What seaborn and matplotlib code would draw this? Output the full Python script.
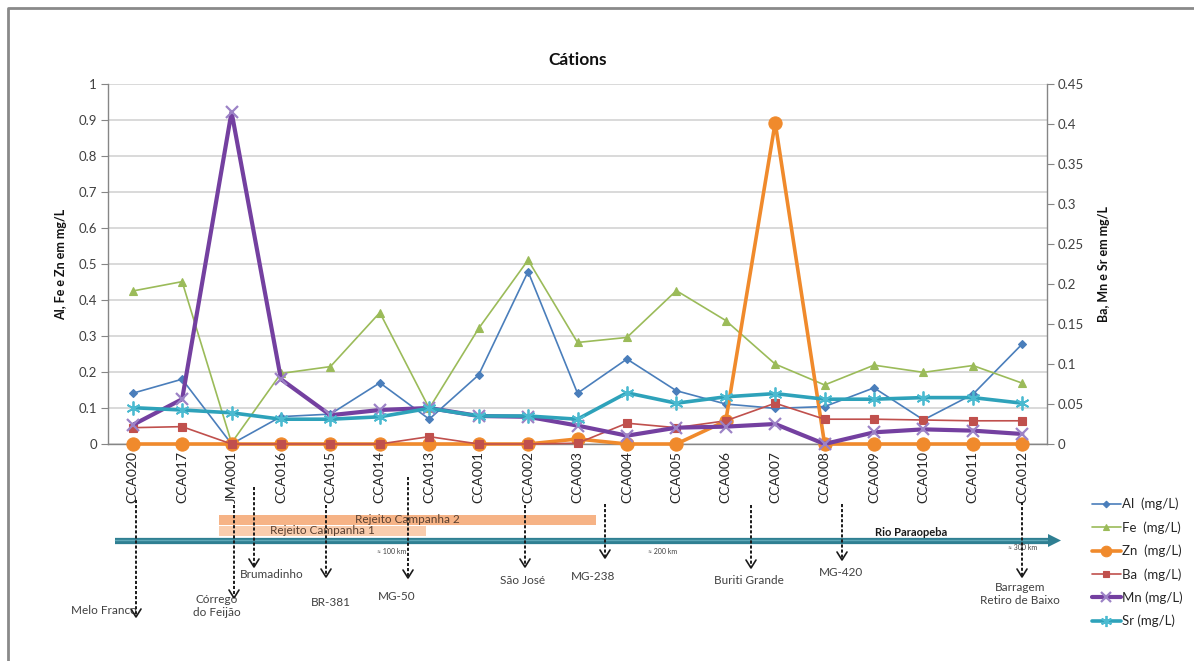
import matplotlib
matplotlib.use("Agg")
import matplotlib.pyplot as plt
import matplotlib.lines as mlines
import matplotlib.patches as mpatches
from matplotlib.ticker import FuncFormatter
import numpy as np
import pandas as pd
import seaborn as sns

# ---- data -----------------------------------------------------------------
pontos = ["CCA020", "CCA017", "JMA001", "CCA016", "CCA015", "CCA014", "CCA013",
          "CCA001", "CCA002", "CCA003", "CCA004", "CCA005", "CCA006", "CCA007",
          "CCA008", "CCA009", "CCA010", "CCA011", "CCA012"]

# primary axis (mg/L)
al = [0.141, 0.180, 0.000, 0.076, 0.083, 0.170, 0.069, 0.192, 0.479, 0.141,
      0.236, 0.148, 0.111, 0.099, 0.104, 0.156, 0.067, 0.138, 0.278]
fe = [0.425, 0.451, 0.003, 0.196, 0.215, 0.365, 0.099, 0.321, 0.511, 0.282,
      0.296, 0.426, 0.343, 0.222, 0.164, 0.219, 0.199, 0.218, 0.169]
zn = [0.000, 0.000, 0.000, 0.000, 0.000, 0.000, 0.000, 0.000, 0.000, 0.014,
      0.000, 0.000, 0.064, 0.893, 0.000, 0.000, 0.000, 0.000, 0.000]

# secondary axis (mg/L)
ba = [0.0204, 0.0217, 0.0, 0.0, 0.0, 0.0, 0.0092, 0.0, 0.0, 0.0010,
      0.0260, 0.0204, 0.0290, 0.0510, 0.0310, 0.0310, 0.0300, 0.0290, 0.0290]
mn = [0.0238, 0.0560, 0.4150, 0.0810, 0.0360, 0.0425, 0.0450, 0.0350, 0.0340,
      0.0230, 0.0104, 0.0204, 0.0217, 0.0250, 0.0000, 0.0146, 0.0183, 0.0167, 0.0125]
sr = [0.0454, 0.0425, 0.0390, 0.0310, 0.0310, 0.0340, 0.0446, 0.0350, 0.0350,
      0.0310, 0.0640, 0.0510, 0.0590, 0.0630, 0.0560, 0.0560, 0.0580, 0.0580, 0.0510]

left_ticks = [0, 0.1, 0.2, 0.3, 0.4, 0.5, 0.6, 0.7, 0.8, 0.9, 1]
right_ticks = [0, 0.05, 0.1, 0.15, 0.2, 0.25, 0.3, 0.35, 0.4, 0.45]

df = pd.DataFrame({"ponto": pontos, "Al": al, "Fe": fe, "Zn": zn,
                   "Ba": ba, "Mn": mn, "Sr": sr})

# ---- style ----------------------------------------------------------------
sns.set_style("white")
plt.rcParams["font.family"] = ["Lato", "DejaVu Sans"]

W, H = 1194, 661
fig = plt.figure(figsize=(W / 100, H / 100), dpi=100)
ax = fig.add_axes([108 / W, 1 - 444 / H, (1047 - 108) / W, (444 - 84) / H])
ax2 = ax.twinx()

AXIS_GREY = "#868686"
GRID_GREY = "#d9d9d9"

series_primary = [
    ("Al", "Al  (mg/L)", "#4a7ebb", "D", 4.2, 1.2, {}),
    ("Fe", "Fe  (mg/L)", "#9bbb59", "^", 5.5, 1.2, {}),
    ("Zn", "Zn  (mg/L)", "#f08a2c", "o", 9.5, 2.6, {}),
]
series_secondary = [
    ("Ba", "Ba  (mg/L)", "#c0504d", "s", 5.5, 1.2, {}),
    ("Mn", "Mn (mg/L)", "#7440a0", "x", 8.5, 3.0,
     {"markeredgecolor": "#9c82c6", "markeredgewidth": 1.6}),
    ("Sr", "Sr (mg/L)", "#2ea2ba", (6, 2, 0), 10, 2.6,
     {"markeredgecolor": "#4bbad0", "markeredgewidth": 1.3}),
]

for target, group in ((ax, series_primary), (ax2, series_secondary)):
    for col, lab, color, mk, ms, lw, extra in group:
        sns.lineplot(data=df, x="ponto", y=col, ax=target, color=color,
                     marker=mk, markersize=ms, linewidth=lw, sort=False,
                     label=lab, markeredgecolor=extra.get("markeredgecolor", color),
                     markeredgewidth=extra.get("markeredgewidth", 0.8),
                     clip_on=False, zorder=3)

# ---- axes -----------------------------------------------------------------
ax.set_xlim(-0.5, len(pontos) - 0.5)
ax.set_ylim(0, 1)
ax2.set_ylim(0, 0.45)
ax.set_yticks(left_ticks)
ax2.set_yticks(right_ticks)
fmt = FuncFormatter(lambda v, p: f"{v:g}")
ax.yaxis.set_major_formatter(fmt)
ax2.yaxis.set_major_formatter(fmt)

ax.yaxis.grid(True, color=GRID_GREY, linewidth=1.4)
ax.set_axisbelow(True)
ax2.grid(False)

for sp in ("top", "right"):
    ax.spines[sp].set_visible(False)
for sp in ("left", "bottom"):
    ax.spines[sp].set_color(AXIS_GREY)
    ax.spines[sp].set_linewidth(1.0)
for sp in ("top", "left", "bottom"):
    ax2.spines[sp].set_visible(False)
ax2.spines["right"].set_color(AXIS_GREY)
ax2.spines["right"].set_linewidth(1.0)

ax.tick_params(axis="y", direction="out", length=5, color=AXIS_GREY,
               labelsize=9.5, labelcolor="#404040", pad=3, left=True)
ax2.tick_params(axis="y", direction="out", length=5, color=AXIS_GREY,
                labelsize=9.5, labelcolor="#404040", pad=3, right=True)
ax.tick_params(axis="x", length=0, labelsize=10, labelcolor="#262626", pad=5)
ax.set_xticks(range(len(pontos)))
ax.set_xticklabels(pontos, rotation=90)
ax.set_xlabel("")

ax.set_ylabel("Al, Fe e Zn em mg/L", fontsize=9, fontweight="bold", color="#111")
ax2.set_ylabel("Ba, Mn e Sr em mg/L", fontsize=9, fontweight="bold", color="#111")
ax.yaxis.set_label_coords(-0.044, 0.5)
ax2.yaxis.set_label_coords(1.054, 0.5)

ax.set_title("Cátions", fontsize=12.5, fontweight="bold", color="#111", pad=14)

# ---- legend ---------------------------------------------------------------
h1, l1 = ax.get_legend_handles_labels()
h2, l2 = ax2.get_legend_handles_labels()
ax.get_legend().remove()
ax2.get_legend().remove()
fig.legend(h1 + h2, l1 + l2, loc="upper left",
           bbox_to_anchor=(1080 / W, 1 - 486 / H), frameon=False,
           fontsize=9.5, labelspacing=0.82, handlelength=2.2, handletextpad=0.1,
           labelcolor="#262626", markerscale=0.8)

# ---- river schematic below the chart -------------------------------------
def fx(px):
    return px / W


def fy(py):
    return 1 - py / H


TXT = "#404040"

# tailings extent bars
bars = [
    ("Rejeito Campanha 2", 219, 596, 515, 524.5, "#f6b386"),
    ("Rejeito Campanha 1", 219, 426, 526, 536, "#f9cdae"),
]
for text, x0, x1, y0, y1, color in bars:
    fig.add_artist(mpatches.Rectangle((fx(x0), fy(y1)), fx(x1) - fx(x0),
                                      fy(y0) - fy(y1), transform=fig.transFigure,
                                      facecolor=color, edgecolor="none", zorder=1))
    fig.text(fx((x0 + x1) / 2), fy((y0 + y1) / 2), text, ha="center", va="center",
             fontsize=8.5, color="#5a4030", zorder=2)

# river line with a small arrow head
RIVER = "#2f7f92"
fig.add_artist(mlines.Line2D([fx(115), fx(1050)], [fy(540.5), fy(540.5)],
                             transform=fig.transFigure, color=RIVER,
                             linewidth=4.5, solid_capstyle="butt", zorder=2))
fig.add_artist(mlines.Line2D([fx(115), fx(1050)], [fy(539.5), fy(539.5)],
                             transform=fig.transFigure, color="#5fa8b8",
                             linewidth=1.0, zorder=2))
fig.add_artist(mpatches.Polygon([(fx(1048), fy(534)), (fx(1061), fy(540.5)),
                                 (fx(1048), fy(547))], closed=True,
                                transform=fig.transFigure, facecolor=RIVER,
                                edgecolor="none", zorder=2))
fig.text(fx(911), fy(532), "Rio Paraopeba", ha="center", va="center",
         fontsize=8, fontweight="bold", color="#1a1a1a")

# distance marks
for label, x, y in [("≈ 100 km", 392, 552), ("≈ 200 km", 663, 552), ("≈ 300 km", 1023, 548)]:
    fig.text(fx(x), fy(y), label, ha="center", va="center", fontsize=5, color=TXT)

# locality arrows: (name, x, y_top, y_tip, label_x, label_y)
locais = [
    ("Melo Franco", 136, 500, 617, 104, 611),
    ("Córrego\ndo Feijão", 234, 505, 598, 217, 606),
    ("Brumadinho", 254, 487, 567, 272, 575),
    ("BR-381", 326, 505, 577, 331, 603),
    ("MG-50", 408, 477, 578, 397, 596),
    ("São José", 525, 505, 567, 523, 581),
    ("MG-238", 605, 504, 558, 593, 577),
    ("Buriti Grande", 751, 505, 568, 749, 580),
    ("MG-420", 842, 504, 560, 841, 572),
    ("Barragem\nRetiro de Baixo", 1022, 502, 577, 1020, 594),
]
for name, x, y0, y1, lx, ly in locais:
    fig.add_artist(mlines.Line2D([fx(x), fx(x)], [fy(y0), fy(y1 - 1)],
                                 transform=fig.transFigure, color="#1a1a1a",
                                 linewidth=1.4, linestyle=(0, (1.6, 1.0)), zorder=4))
    fig.add_artist(mlines.Line2D([fx(x - 5), fx(x), fx(x + 5)],
                                 [fy(y1 - 8), fy(y1), fy(y1 - 8)],
                                 transform=fig.transFigure, color="#1a1a1a",
                                 linewidth=1.2, zorder=4))
    fig.text(fx(lx), fy(ly), name, ha="center", va="center", fontsize=8.5,
             color=TXT, linespacing=1.25)

# chart frame
fig.add_artist(mlines.Line2D([fx(7.5), fx(7.5), fx(W + 5)], [fy(H + 5), fy(7.5), fy(7.5)],
                             transform=fig.transFigure, color="#8a8a8a", linewidth=2))

fig.savefig("out.png", dpi=100)
